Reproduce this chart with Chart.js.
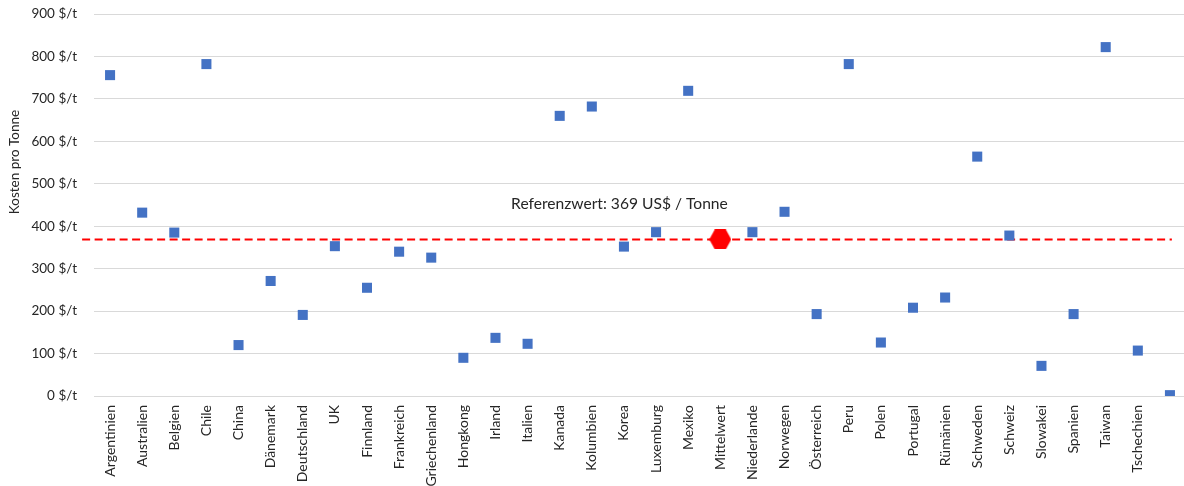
<!DOCTYPE html>
<html>
<head>
<meta charset="utf-8">
<script src="https://cdn.jsdelivr.net/npm/chart.js@4/dist/chart.umd.min.js"></script>
<style>
  html, body { margin: 0; padding: 0; background: #fff; overflow: hidden; }
  #wrap { width: 1198px; height: 486px; }
</style>
</head>
<body>
<div id="wrap"><canvas id="c" width="1198" height="486"></canvas></div>
<script>
// Kosten pro Tonne je Land ($/t)
const categories = [
  'Argentinien', 'Australien', 'Belgien', 'Chile', 'China', 'Dänemark', 'Deutschland',
  'UK', 'Finnland', 'Frankreich', 'Griechenland', 'Hongkong', 'Irland', 'Italien',
  'Kanada', 'Kolumbien', 'Korea', 'Luxemburg', 'Mexiko', 'Mittelwert', 'Niederlande',
  'Norwegen', 'Österreich', 'Peru', 'Polen', 'Portugal', 'Rümänien', 'Schweden',
  'Schweiz', 'Slowakei', 'Spanien', 'Taiwan', 'Tschechien', ''
];
const costs = [
  756, 432, 385, 782, 120, 271, 191,
  353, 255, 340, 326, 90, 137, 123,
  660, 682, 352, 386, 719, null, 386,
  434, 193, 782, 126, 208, 232, 564,
  378, 71, 193, 822, 107, 2
];
const referenceValue = 369;
const referenceLabel = 'Referenzwert: 369 US$ / Tonne';
const yTicks = [0, 100, 200, 300, 400, 500, 600, 700, 800, 900];
const yTitle = 'Kosten pro Tonne';

const FONT = 'Lato, "Open Sans", sans-serif';
const TEXT = '#262626';

// Mittelwert marker: red hexagon
function hexagon(w, h, color) {
  const cv = document.createElement('canvas');
  cv.width = w; cv.height = h;
  const g = cv.getContext('2d');
  const q = w / 4;
  g.beginPath();
  g.moveTo(0, h / 2);
  g.lineTo(q, 0);
  g.lineTo(w - q, 0);
  g.lineTo(w, h / 2);
  g.lineTo(w - q, h);
  g.lineTo(q, h);
  g.closePath();
  g.fillStyle = color;
  g.fill();
  return cv;
}

const meanIndex = categories.indexOf('Mittelwert');
const meanSeries = categories.map((_, i) => (i === meanIndex ? referenceValue : null));

// dashed reference line spans slightly past the plotted categories
const lineStart = -0.87, lineEnd = 33.06;

const textPlugin = {
  id: 'texts',
  afterDraw(chart) {
    const { ctx, chartArea, scales } = chart;
    ctx.save();
    ctx.fillStyle = TEXT;
    // axis title
    ctx.font = '13.5px ' + FONT;
    ctx.translate(15, chartArea.top + 148);
    ctx.rotate(-Math.PI / 2);
    ctx.textAlign = 'center';
    ctx.textBaseline = 'middle';
    ctx.fillText(yTitle, 0, 0);
    ctx.restore();

    // reference annotation
    ctx.save();
    ctx.fillStyle = TEXT;
    ctx.font = '15.6px ' + FONT;
    ctx.textAlign = 'center';
    ctx.textBaseline = 'alphabetic';
    ctx.fillText(referenceLabel, scales.xl.getPixelForValue(15.86), scales.y.getPixelForValue(440));
    ctx.restore();
  }
};

new Chart(document.getElementById('c'), {
  type: 'line',
  data: {
    labels: categories,
    datasets: [
      {
        label: 'Referenzwert',
        data: [{ x: lineStart, y: referenceValue }, { x: lineEnd, y: referenceValue }],
        xAxisID: 'xl',
        borderColor: '#FF0000',
        borderWidth: 2,
        borderDash: [8, 4.5],
        pointRadius: 0,
        showLine: true,
        clip: false,
        order: 3
      },
      {
        label: 'Kosten',
        data: costs,
        showLine: false,
        pointStyle: 'rect',
        pointRadius: 7.1,
        pointHoverRadius: 7.1,
        pointBorderWidth: 0,
        backgroundColor: '#4472C4',
        borderColor: '#4472C4',
        order: 1
      },
      {
        label: 'Mittelwert',
        data: meanSeries,
        showLine: false,
        pointStyle: hexagon(22, 20, '#FF0000'),
        pointRadius: 11,
        order: 0
      }
    ]
  },
  options: {
    responsive: false,
    animation: false,
    devicePixelRatio: 1,
    layout: { padding: { top: 14, right: 3, left: 0, bottom: 0 } },
    plugins: { legend: { display: false }, tooltip: { enabled: false } },
    scales: {
      x: {
        type: 'category',
        offset: true,
        grid: { display: false, drawTicks: false },
        border: { display: false },
        ticks: {
          autoSkip: false,
          maxRotation: 90,
          minRotation: 90,
          padding: 9,
          color: TEXT,
          font: { family: FONT, size: 14 }
        },
        afterFit(s) { s.height = 90; }
      },
      xl: {
        type: 'linear',
        display: false,
        min: -0.5,
        max: categories.length - 0.5
      },
      y: {
        min: 0,
        max: 900,
        afterBuildTicks(s) { s.ticks = yTicks.map(v => ({ value: v })); },
        grid: { color: '#d9d9d9', lineWidth: 1, drawTicks: true, tickLength: 17, tickColor: 'rgba(0,0,0,0)' },
        border: { display: false },
        ticks: {
          padding: 0,
          color: TEXT,
          font: { family: FONT, size: 13.5 },
          callback: v => v + ' $/t'
        },
        afterFit(s) { s.width = 94; }
      }
    }
  },
  plugins: [textPlugin]
});
</script>
</body>
</html>
